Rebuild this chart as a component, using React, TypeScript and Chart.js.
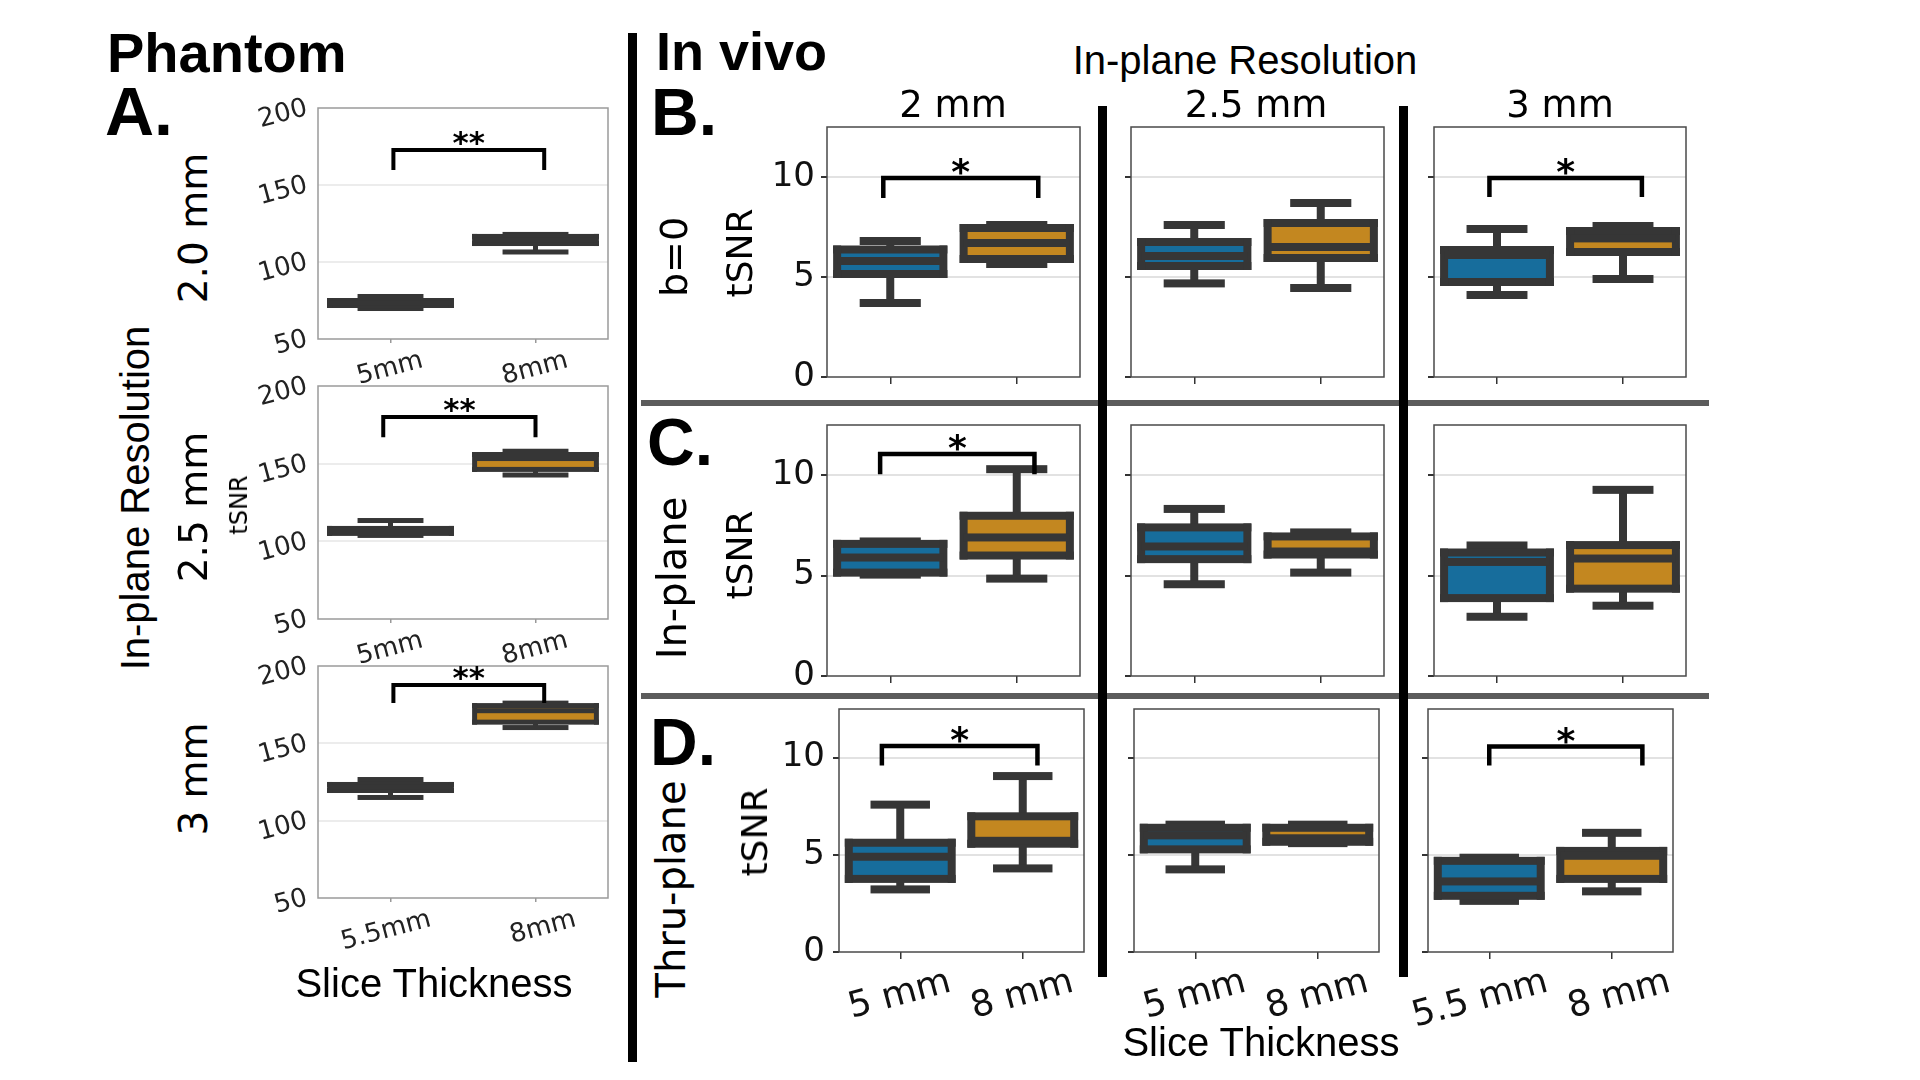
import React, { useEffect, useRef } from 'react';
import { Chart, registerables } from 'chart.js';
Chart.register(...registerables);

const BLUE = '#176d9c';
const ORANGE = '#c38720';
const DARK = '#363636';
const BOX_COLORS = [BLUE, ORANGE];

// ---------- Phantom (A) ----------
const phantomYTicks = [50, 100, 150, 200];
const phantomLabels20 = ['5mm', '8mm'];
const phantomLabels25 = ['5mm', '8mm'];
const phantomLabels30 = ['5.5mm', '8mm'];
// each entry: [min, q1, median, q3, max]
const phantomStats20 = [[69.8, 71.75, 73.5, 75.0, 77.6], [106.5, 112.0, 114.5, 116.6, 117.9]];
const phantomStats25 = [[103.8, 105.1, 107.0, 108.3, 113.4], [142.7, 146.3, 153.3, 155.9, 158.0]];
const phantomStats30 = [[115.0, 119.5, 121.5, 123.4, 126.6], [160.2, 163.7, 171.1, 174.4, 176.0]];
// [from category, to category, bracket value, leg end value]
const phantomBracket20 = [0.02, 1.06, 172.7, 159.7];
const phantomBracket25 = [-0.05, 1.0, 180.0, 167.0];
const phantomBracket30 = [0.02, 1.06, 187.7, 176.0];
const phantomSig = '**';

// ---------- In vivo (B, C, D) ----------
const vivoYTicks = [0, 5, 10];
const vivoLabels2 = ['5 mm', '8 mm'];
const vivoLabels25 = ['5 mm', '8 mm'];
const vivoLabels3 = ['5.5 mm', '8 mm'];

const b0Stats2 = [[3.7, 5.15, 5.8, 6.375, 6.8], [5.65, 5.9, 6.7, 7.45, 7.6]];
const b0Stats25 = [[4.68, 5.55, 6.05, 6.75, 7.6], [4.45, 5.95, 6.5, 7.7, 8.7]];
const b0Stats3 = [[4.1, 4.75, 6.1, 6.35, 7.4], [4.9, 6.25, 6.93, 7.3, 7.55]];

const inPlaneStats2 = [[5.05, 5.15, 5.9, 6.58, 6.7], [4.85, 6.0, 6.9, 7.98, 10.3]];
const inPlaneStats25 = [[4.57, 5.82, 6.45, 7.4, 8.32], [5.15, 6.05, 6.2, 6.95, 7.15]];
const inPlaneStats3 = [[2.95, 3.88, 5.68, 6.15, 6.5], [3.5, 4.35, 5.85, 6.52, 9.27]];

const thruPlaneStats2 = [[3.22, 3.76, 4.9, 5.62, 7.58], [4.3, 5.57, 5.72, 6.98, 9.05]];
const thruPlaneStats25 = [[4.25, 5.28, 6.0, 6.39, 6.55], [5.6, 5.67, 5.85, 6.39, 6.55]];
const thruPlaneStats3 = [[2.63, 2.89, 3.63, 4.69, 4.85], [3.12, 3.76, 4.95, 5.2, 6.13]];

const b0Bracket2 = [-0.055, 1.17, 9.95, 8.95];
const b0Bracket3 = [-0.06, 1.15, 9.95, 9.0];
const inPlaneBracket2 = [-0.08, 1.14, 11.05, 10.05];
const thruPlaneBracket2 = [-0.15, 1.12, 10.6, 9.6];
const thruPlaneBracket3 = [0.0, 1.25, 10.57, 9.6];
const vivoSig = '*';

// ---------- layout helpers ----------
type Rect = { l: number; t: number; r: number; b: number };
type PanelProps = {
  rect: Rect;
  labels: string[];
  stats: number[][];
  yMin: number;
  yMax: number;
  yTicks: number[];
  showY: boolean;
  showX: boolean;
  bracket?: number[];
  star?: string;
  phantom?: boolean;
  xLabelOffset?: number;
  yPad?: number;
};

const AX_L = 100;
const AX_B = 90;
const PAD_T = 20;
const PAD_R = 20;

function BoxPanel(p: PanelProps) {
  const ref = useRef<HTMLCanvasElement>(null);
  const W = p.rect.r - p.rect.l + AX_L + PAD_R;
  const H = p.rect.b - p.rect.t + PAD_T + AX_B;
  useEffect(() => {
    if (!ref.current) return;
    const ph = !!p.phantom;
    const LW = ph ? 5 : 8;
    const boxPlugin = {
      id: 'boxes',
      afterDatasetsDraw(chart: any) {
        const ctx = chart.ctx;
        const ys = chart.scales.y;
        const xs = chart.scales.x;
        const meta = chart.getDatasetMeta(0);
        ctx.save();
        ctx.fillStyle = DARK;
        meta.data.forEach((bar: any, i: number) => {
          const [mn, q1, md, q3, mx] = p.stats[i];
          const cx = bar.x;
          const w = bar.width;
          const y1 = ys.getPixelForValue(q1);
          const y3 = ys.getPixelForValue(q3);
          const ym = ys.getPixelForValue(md);
          const yMn = ys.getPixelForValue(mn);
          const yMx = ys.getPixelForValue(mx);
          const x0 = cx - w / 2;
          ctx.fillRect(cx - LW / 2, yMx, LW, y3 - yMx);
          ctx.fillRect(cx - LW / 2, y1, LW, yMn - y1);
          ctx.fillRect(cx - w / 4 - LW / 2, yMx - LW / 2, w / 2 + LW, LW);
          ctx.fillRect(cx - w / 4 - LW / 2, yMn - LW / 2, w / 2 + LW, LW);
          ctx.fillRect(x0 - LW / 2, y3 - LW / 2, w + LW, LW);
          ctx.fillRect(x0 - LW / 2, y1 - LW / 2, w + LW, LW);
          ctx.fillRect(x0 - LW / 2, y3 - LW / 2, LW, y1 - y3 + LW);
          ctx.fillRect(x0 + w - LW / 2, y3 - LW / 2, LW, y1 - y3 + LW);
          ctx.fillRect(x0, ym - LW / 2, w, LW);
        });
        // spines
        const a = chart.chartArea;
        ctx.strokeStyle = ph ? '#9a9a9a' : '#4a4a4a';
        ctx.lineWidth = 1.5;
        ctx.strokeRect(a.left, a.top, a.right - a.left, a.bottom - a.top);
        // significance bracket
        if (p.bracket) {
          const [bx0, bx1, by, byl] = p.bracket;
          const X0 = xs.getPixelForValue(bx0);
          const X1 = xs.getPixelForValue(bx1);
          const Y = ys.getPixelForValue(by);
          const YL = ys.getPixelForValue(byl);
          ctx.strokeStyle = '#000';
          ctx.lineWidth = ph ? 4 : 4.5;
          ctx.lineJoin = 'miter';
          ctx.lineCap = 'butt';
          ctx.beginPath();
          ctx.moveTo(X0, YL);
          ctx.lineTo(X0, Y);
          ctx.lineTo(X1, Y);
          ctx.lineTo(X1, YL);
          ctx.stroke();
          const fs = ph ? 31 : 36;
          ctx.fillStyle = '#000';
          ctx.font = `bold ${fs}px "DejaVu Sans"`;
          ctx.textAlign = 'center';
          ctx.textBaseline = 'alphabetic';
          ctx.fillText(p.star || '', (X0 + X1) / 2, Y + fs * (ph ? 0.08 : 0.17));
        }
        ctx.restore();
      },
    };
    const gridColor = ph ? '#ececec' : '#e2e2e2';
    const chart = new Chart(ref.current, {
      type: 'bar',
      data: {
        labels: p.labels,
        datasets: [
          {
            data: p.stats.map((s) => [s[1], s[3]]) as any,
            backgroundColor: BOX_COLORS,
            borderWidth: 0,
            barPercentage: 0.84,
            categoryPercentage: 1,
          },
        ],
      },
      options: {
        responsive: false,
        animation: false,
        events: [],
        layout: { padding: { top: PAD_T, right: PAD_R, left: 0, bottom: 0 } },
        plugins: { legend: { display: false }, tooltip: { enabled: false } },
        scales: {
          x: {
            afterFit: (s: any) => {
              s.height = AX_B;
              s.paddingLeft = 0;
              s.paddingRight = 0;
            },
            grid: {
              offset: false,
              drawOnChartArea: false,
              tickLength: ph ? 4 : 7,
              tickColor: ph ? '#999' : '#333',
              lineWidth: 1.5,
            },
            border: { display: false },
            ticks: {
              display: p.showX,
              autoSkip: false,
              font: { family: 'DejaVu Sans', size: ph ? 26 : 36 },
              color: ph ? '#222' : '#111',
              minRotation: 15,
              maxRotation: 15,
              labelOffset: p.xLabelOffset ?? (ph ? 32 : 50),
              padding: 2,
            },
          },
          y: {
            min: p.yMin,
            max: p.yMax,
            afterBuildTicks: (s: any) => {
              s.ticks = p.yTicks.map((v) => ({ value: v }));
            },
            afterFit: (s: any) => {
              s.width = AX_L;
              s.paddingTop = 0;
              s.paddingBottom = 0;
            },
            grid: {
              color: (c: any) =>
                c.tick && (c.tick.value === p.yMin || c.tick.value === p.yMax) ? 'rgba(0,0,0,0)' : gridColor,
              lineWidth: 2,
              tickLength: ph ? 4 : 6,
              tickColor: ph ? 'rgba(0,0,0,0)' : '#333',
            },
            border: { display: false },
            ticks: {
              display: p.showY,
              autoSkip: false,
              font: { family: 'DejaVu Sans', size: ph ? 26 : 34 },
              color: ph ? '#222' : '#111',
              minRotation: ph ? 15 : 0,
              maxRotation: ph ? 15 : 0,
              padding: p.yPad ?? (ph ? 7 : 6),
            },
          },
        },
      },
      plugins: [boxPlugin],
    });
    return () => chart.destroy();
  }, []);
  return (
    <canvas
      ref={ref}
      width={W}
      height={H}
      style={{ position: 'absolute', left: p.rect.l - AX_L, top: p.rect.t - PAD_T, width: W, height: H }}
    />
  );
}

const HELV = '"Liberation Sans", Arial, sans-serif';
const DEJA = '"DejaVu Sans", sans-serif';

function Txt(props: { x: number; base: number; size: number; text: string; bold?: boolean; family?: string; center?: boolean }) {
  return (
    <div
      style={{
        position: 'absolute',
        left: props.x,
        top: props.base - 0.846 * props.size,
        fontSize: props.size,
        lineHeight: 1,
        fontFamily: props.family || HELV,
        fontWeight: props.bold ? 700 : 400,
        whiteSpace: 'nowrap',
        color: '#000',
        transform: props.center ? 'translateX(-50%)' : undefined,
      }}
    >
      {props.text}
    </div>
  );
}

function VTxt(props: { cx: number; cy: number; size: number; text: string; family?: string }) {
  return (
    <div
      style={{
        position: 'absolute',
        left: props.cx,
        top: props.cy,
        fontSize: props.size,
        lineHeight: 1,
        fontFamily: props.family || DEJA,
        whiteSpace: 'nowrap',
        color: '#000',
        transform: 'translate(-50%, -50%) rotate(-90deg)',
      }}
    >
      {props.text}
    </div>
  );
}

function Bar(props: { l: number; t: number; w: number; h: number; color: string }) {
  return <div style={{ position: 'absolute', left: props.l, top: props.t, width: props.w, height: props.h, background: props.color }} />;
}

export default function App() {
  const colsBC = [
    [827, 1080],
    [1131, 1384],
    [1434, 1686],
  ];
  const colsD = [
    [839, 1084],
    [1134, 1379],
    [1428, 1673],
  ];
  return (
    <div style={{ position: 'absolute', left: 0, top: 0, width: 1920, height: 1080, background: '#fff', overflow: 'hidden' }}>
      {/* Phantom */}
      <BoxPanel rect={{ l: 318, t: 108, r: 608, b: 339 }} labels={phantomLabels20} stats={phantomStats20} yMin={50} yMax={200} yTicks={phantomYTicks} showY showX bracket={phantomBracket20} star={phantomSig} phantom />
      <BoxPanel rect={{ l: 318, t: 386, r: 608, b: 619 }} labels={phantomLabels25} stats={phantomStats25} yMin={50} yMax={200} yTicks={phantomYTicks} showY showX bracket={phantomBracket25} star={phantomSig} phantom />
      <BoxPanel rect={{ l: 318, t: 666, r: 608, b: 898 }} labels={phantomLabels30} stats={phantomStats30} yMin={50} yMax={200} yTicks={phantomYTicks} showY showX bracket={phantomBracket30} star={phantomSig} phantom xLabelOffset={40} />

      {/* In vivo row B */}
      <BoxPanel rect={{ l: colsBC[0][0], t: 127, r: colsBC[0][1], b: 377 }} labels={vivoLabels2} stats={b0Stats2} yMin={0} yMax={12.5} yTicks={vivoYTicks} showY showX={false} bracket={b0Bracket2} star={vivoSig} />
      <BoxPanel rect={{ l: colsBC[1][0], t: 127, r: colsBC[1][1], b: 377 }} labels={vivoLabels25} stats={b0Stats25} yMin={0} yMax={12.5} yTicks={vivoYTicks} showY={false} showX={false} />
      <BoxPanel rect={{ l: colsBC[2][0], t: 127, r: colsBC[2][1], b: 377 }} labels={vivoLabels3} stats={b0Stats3} yMin={0} yMax={12.5} yTicks={vivoYTicks} showY={false} showX={false} bracket={b0Bracket3} star={vivoSig} />
      {/* row C */}
      <BoxPanel rect={{ l: colsBC[0][0], t: 425, r: colsBC[0][1], b: 676 }} labels={vivoLabels2} stats={inPlaneStats2} yMin={0} yMax={12.5} yTicks={vivoYTicks} showY showX={false} bracket={inPlaneBracket2} star={vivoSig} />
      <BoxPanel rect={{ l: colsBC[1][0], t: 425, r: colsBC[1][1], b: 676 }} labels={vivoLabels25} stats={inPlaneStats25} yMin={0} yMax={12.5} yTicks={vivoYTicks} showY={false} showX={false} />
      <BoxPanel rect={{ l: colsBC[2][0], t: 425, r: colsBC[2][1], b: 676 }} labels={vivoLabels3} stats={inPlaneStats3} yMin={0} yMax={12.5} yTicks={vivoYTicks} showY={false} showX={false} />
      {/* row D */}
      <BoxPanel rect={{ l: colsD[0][0], t: 709, r: colsD[0][1], b: 952 }} labels={vivoLabels2} stats={thruPlaneStats2} yMin={0} yMax={12.5} yTicks={vivoYTicks} showY showX bracket={thruPlaneBracket2} star={vivoSig} yPad={8} />
      <BoxPanel rect={{ l: colsD[1][0], t: 709, r: colsD[1][1], b: 952 }} labels={vivoLabels25} stats={thruPlaneStats25} yMin={0} yMax={12.5} yTicks={vivoYTicks} showY={false} showX />
      <BoxPanel rect={{ l: colsD[2][0], t: 709, r: colsD[2][1], b: 952 }} labels={vivoLabels3} stats={thruPlaneStats3} yMin={0} yMax={12.5} yTicks={vivoYTicks} showY={false} showX bracket={thruPlaneBracket3} star={vivoSig} xLabelOffset={58} />

      {/* separators */}
      <Bar l={641} t={400} w={1068} h={6} color="#5c5c5c" />
      <Bar l={641} t={693} w={1068} h={6} color="#5c5c5c" />
      <Bar l={628} t={33} w={9} h={1029} color="#000" />
      <Bar l={1098} t={106} w={9} h={871} color="#000" />
      <Bar l={1399} t={106} w={9} h={871} color="#000" />

      {/* titles & labels */}
      <Txt x={107} base={72} size={56} text="Phantom" bold />
      <Txt x={105} base={135} size={68} text="A." bold />
      <Txt x={656} base={70} size={54} text="In vivo" bold />
      <Txt x={651} base={135} size={66} text="B." bold />
      <Txt x={647} base={465} size={66} text="C." bold />
      <Txt x={650} base={765} size={66} text="D." bold />
      <Txt x={1245} base={74} size={40} text="In-plane Resolution" center />
      <Txt x={953} base={117} size={37} text="2 mm" family={DEJA} center />
      <Txt x={1256} base={117} size={37} text="2.5 mm" family={DEJA} center />
      <Txt x={1560} base={117} size={37} text="3 mm" family={DEJA} center />
      <Txt x={434} base={997} size={40} text="Slice Thickness" center />
      <Txt x={1261} base={1056} size={40} text="Slice Thickness" center />

      <VTxt cx={135} cy={498} size={40} text="In-plane Resolution" family={HELV} />
      <VTxt cx={193} cy={228} size={39} text="2.0 mm" />
      <VTxt cx={193} cy={507} size={39} text="2.5 mm" />
      <VTxt cx={193} cy={779} size={39} text="3 mm" />
      <VTxt cx={239} cy={505} size={24} text="tSNR" />
      <VTxt cx={674} cy={257} size={38} text="b=0" />
      <VTxt cx={672} cy={578} size={40} text="In-plane" />
      <VTxt cx={671} cy={889} size={40} text="Thru-plane" />
      <VTxt cx={740} cy={253} size={36} text="tSNR" />
      <VTxt cx={740} cy={555} size={36} text="tSNR" />
      <VTxt cx={755} cy={832} size={36} text="tSNR" />
    </div>
  );
}
